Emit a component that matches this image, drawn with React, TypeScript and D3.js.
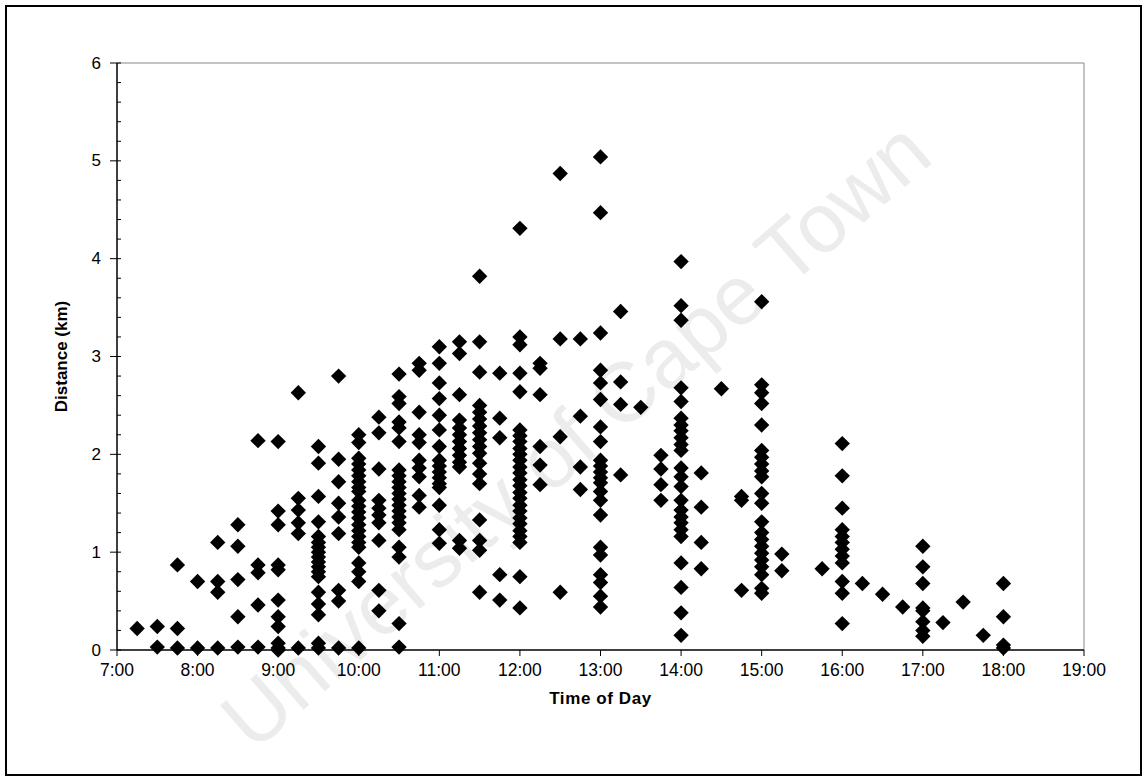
import React from "react";
import * as d3 from "d3";

const slotTimes = [
  "7:15", "7:30", "7:45", "8:00", "8:15", "8:30", "8:45", "9:00", "9:15", "9:30", "9:45",
  "10:00", "10:15", "10:30", "10:45", "11:00", "11:15", "11:30", "11:45", "12:00", "12:15",
  "12:30", "12:45", "13:00", "13:15", "13:30", "13:45", "14:00", "14:15", "14:30", "14:45",
  "15:00", "15:15", "15:45", "16:00", "16:15", "16:30", "16:45", "17:00", "17:15", "17:30",
  "17:45", "18:00",
];

const slotDistances: number[][] = [
  [0.22],
  [0.24, 0.03],
  [0.87, 0.22, 0.02],
  [0.70, 0.02],
  [1.10, 0.70, 0.59, 0.02],
  [1.28, 1.06, 0.72, 0.34, 0.03],
  [2.14, 0.87, 0.79, 0.46, 0.03],
  [2.13, 1.42, 1.28, 0.87, 0.82, 0.51, 0.34, 0.24, 0.07, 0.02, 0.0],
  [2.63, 1.55, 1.43, 1.30, 1.19, 0.02],
  [2.08, 1.91, 1.57, 1.31, 1.16, 1.10, 1.05, 1.00, 0.95, 0.90, 0.85, 0.80, 0.75, 0.59, 0.47, 0.36, 0.07, 0.02],
  [2.80, 1.95, 1.72, 1.50, 1.36, 1.19, 0.61, 0.50, 0.02],
  [2.20, 2.12, 1.96, 1.90, 1.84, 1.78, 1.72, 1.66, 1.62, 1.53, 1.47, 1.41, 1.35, 1.28, 1.22, 1.16, 1.10, 1.05, 0.89, 0.80, 0.70, 0.02],
  [2.38, 2.22, 1.85, 1.53, 1.45, 1.38, 1.30, 1.12, 0.61, 0.40],
  [2.82, 2.59, 2.52, 2.33, 2.27, 2.13, 1.84, 1.78, 1.72, 1.66, 1.60, 1.54, 1.48, 1.42, 1.36, 1.30, 1.23, 1.05, 0.95, 0.27, 0.03],
  [2.93, 2.86, 2.43, 2.20, 2.12, 1.94, 1.86, 1.77, 1.58, 1.46],
  [3.10, 2.93, 2.73, 2.57, 2.40, 2.25, 2.08, 1.94, 1.88, 1.82, 1.76, 1.70, 1.66, 1.48, 1.23, 1.09],
  [3.15, 3.03, 2.61, 2.35, 2.27, 2.20, 2.13, 2.06, 1.99, 1.92, 1.87, 1.12, 1.04],
  [3.82, 3.15, 2.84, 2.50, 2.43, 2.36, 2.29, 2.22, 2.15, 2.08, 2.01, 1.91, 1.80, 1.70, 1.33, 1.12, 1.02, 0.59],
  [2.83, 2.37, 2.17, 0.77, 0.51],
  [4.31, 3.20, 3.12, 2.83, 2.64, 2.25, 2.19, 2.13, 2.06, 2.00, 1.94, 1.87, 1.81, 1.74, 1.68, 1.61, 1.55, 1.48, 1.42, 1.35, 1.29, 1.22, 1.16, 1.10, 0.75, 0.43],
  [2.93, 2.88, 2.61, 2.08, 1.89, 1.69],
  [4.87, 3.18, 2.18, 0.59],
  [3.18, 2.39, 1.87, 1.64],
  [5.04, 4.47, 3.24, 2.86, 2.73, 2.56, 2.28, 2.13, 1.94, 1.88, 1.82, 1.76, 1.71, 1.62, 1.53, 1.38, 1.05, 0.97, 0.77, 0.69, 0.55, 0.44],
  [3.46, 2.74, 2.51, 1.79],
  [2.48],
  [1.99, 1.85, 1.69, 1.53],
  [3.97, 3.52, 3.37, 2.68, 2.54, 2.37, 2.30, 2.24, 2.17, 2.10, 2.04, 1.86, 1.77, 1.67, 1.53, 1.43, 1.36, 1.30, 1.23, 1.16, 0.89, 0.64, 0.38, 0.15],
  [1.81, 1.46, 1.10, 0.83],
  [2.67],
  [1.57, 1.53, 0.61],
  [3.56, 2.71, 2.63, 2.52, 2.30, 2.04, 1.97, 1.90, 1.83, 1.77, 1.60, 1.50, 1.31, 1.20, 1.13, 1.06, 0.99, 0.92, 0.85, 0.77, 0.63, 0.58],
  [0.98, 0.81],
  [0.83],
  [2.11, 1.78, 1.45, 1.23, 1.16, 1.10, 1.03, 0.96, 0.89, 0.70, 0.58, 0.27],
  [0.68],
  [0.57],
  [0.44],
  [1.06, 0.85, 0.68, 0.43, 0.40, 0.29, 0.20, 0.14],
  [0.28],
  [0.49],
  [0.15],
  [0.68, 0.34, 0.05, 0.02],
];

const xTickLabels = [
  "7:00", "8:00", "9:00", "10:00", "11:00", "12:00", "13:00",
  "14:00", "15:00", "16:00", "17:00", "18:00", "19:00",
];
const yTickValues = [0, 1, 2, 3, 4, 5, 6];

const xAxisTitle = "Time of Day";
const yAxisTitle = "Distance (km)";
const watermark = "University of Cape Town";

const toHours = (s: string) => {
  const [h, m] = s.split(":").map(Number);
  return h + m / 60;
};

export default function App() {
  const W = 1147;
  const H = 781;
  const left = 117;
  const right = 1084;
  const top = 63;
  const bottom = 650;
  const font = "'Liberation Sans', Arial, Helvetica, sans-serif";

  const x = d3.scaleLinear().domain([7, 19]).range([left, right]);
  const y = d3.scaleLinear().domain([0, 6]).range([bottom, top]);

  const points = slotTimes.flatMap((t, i) =>
    slotDistances[i].map((d) => ({ t: toHours(t), d }))
  );
  const diamond = d3.symbol().type(d3.symbolSquare).size(118)() as string;
  const minorY = d3.range(0, 6.0001, 0.2);

  return (
    <svg
      width={W}
      height={H}
      style={{ position: "absolute", left: 0, top: 0, background: "#fff" }}
    >
      <rect x={0} y={0} width={W} height={H} fill="#fff" />
      <rect x={6} y={6} width={1135} height={769} fill="none" stroke="#000" strokeWidth={2} />

      {/* watermark */}
      <text
        x={0}
        y={0}
        transform="translate(580,440) rotate(-41)"
        textAnchor="middle"
        dominantBaseline="middle"
        fontFamily={font}
        fontSize={84}
        fill="#ececec"
      >
        {watermark}
      </text>

      {/* plot frame */}
      <line x1={left} x2={right} y1={top} y2={top} stroke="#888" strokeWidth={1} />
      <line x1={right} x2={right} y1={top} y2={bottom} stroke="#888" strokeWidth={1} />

      {/* y axis */}
      <line x1={left} x2={left} y1={top} y2={bottom} stroke="#000" strokeWidth={1.5} />
      {minorY.map((v, i) => (
        <line key={"mi" + i} x1={left} x2={left + 4} y1={y(v)} y2={y(v)} stroke="#000" strokeWidth={1} />
      ))}
      {yTickValues.map((v) => (
        <g key={"yt" + v}>
          <line x1={left - 7} x2={left} y1={y(v)} y2={y(v)} stroke="#000" strokeWidth={1} />
          <text
            x={left - 16}
            y={y(v)}
            textAnchor="end"
            dominantBaseline="central"
            fontFamily={font}
            fontSize={17}
            fill="#000"
          >
            {v}
          </text>
        </g>
      ))}

      {/* x axis */}
      <line x1={left} x2={right} y1={bottom} y2={bottom} stroke="#000" strokeWidth={1.5} />
      {xTickLabels.map((lab) => {
        const px = x(toHours(lab));
        return (
          <g key={"xt" + lab}>
            <line x1={px} x2={px} y1={bottom} y2={bottom + 6} stroke="#000" strokeWidth={1} />
            <text
              x={px}
              y={bottom + 20}
              textAnchor="middle"
              dominantBaseline="central"
              fontFamily={font}
              fontSize={17.5}
              fill="#000"
            >
              {lab}
            </text>
          </g>
        );
      })}

      {/* points */}
      {points.map((p, i) => (
        <path
          key={"p" + i}
          d={diamond}
          transform={`translate(${x(p.t)},${y(p.d)}) rotate(45)`}
          fill="#000"
        />
      ))}

      {/* titles */}
      <text
        x={(left + right) / 2}
        y={698}
        textAnchor="middle"
        dominantBaseline="central"
        fontFamily={font}
        fontSize={17}
        fontWeight="bold"
        letterSpacing={0.6}
        fill="#000"
      >
        {xAxisTitle}
      </text>
      <text
        transform={`translate(61,${(top + bottom) / 2}) rotate(-90)`}
        textAnchor="middle"
        dominantBaseline="central"
        fontFamily={font}
        fontSize={17}
        fontWeight="bold"
        fill="#000"
      >
        {yAxisTitle}
      </text>
    </svg>
  );
}
